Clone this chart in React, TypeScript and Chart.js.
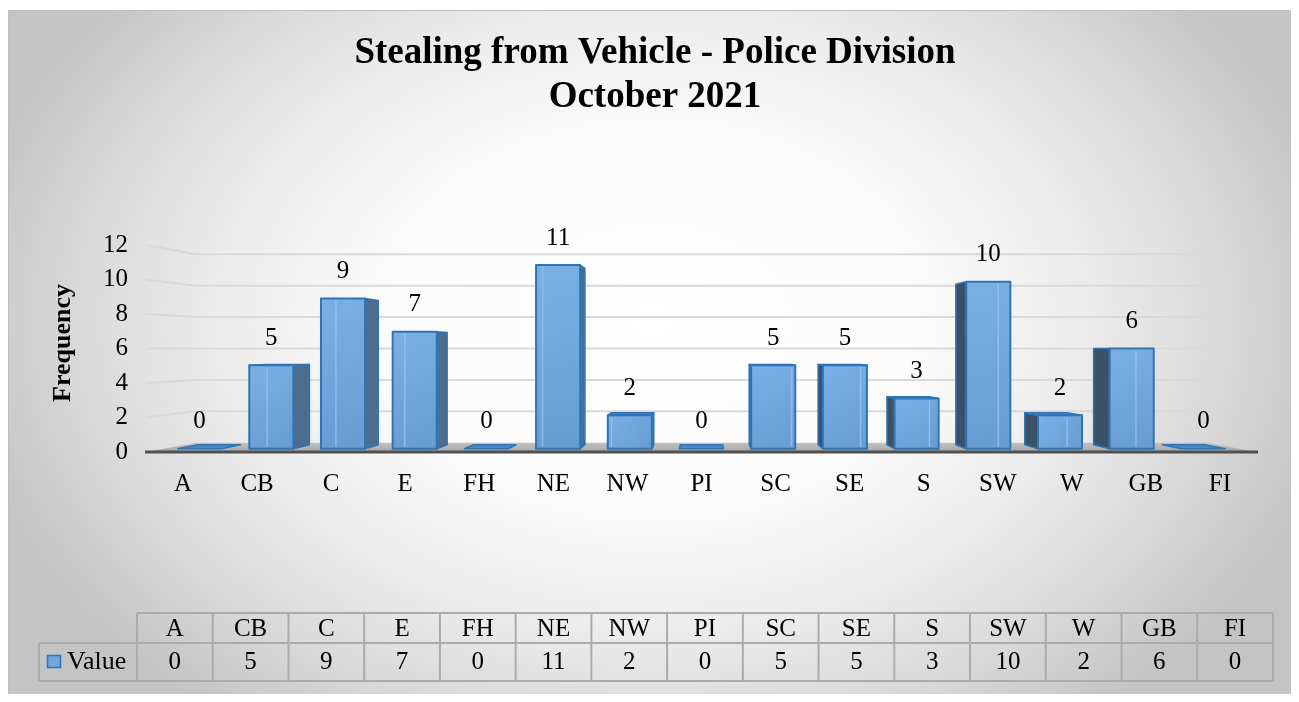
import React, { useEffect, useRef } from 'react';
import { Chart, registerables } from 'chart.js';
Chart.register(...registerables);

const TITLE_LINES = ['Stealing from Vehicle - Police Division', 'October 2021'];
const CATEGORIES = ['A', 'CB', 'C', 'E', 'FH', 'NE', 'NW', 'PI', 'SC', 'SE', 'S', 'SW', 'W', 'GB', 'FI'];
const VALUES = [0, 5, 9, 7, 0, 11, 2, 0, 5, 5, 3, 10, 2, 6, 0];
const SERIES_NAME = 'Value';
const Y_TICKS = [0, 2, 4, 6, 8, 10, 12];
const Y_TITLE = 'Frequency';

const FONT = "'Liberation Serif', 'Times New Roman', serif";
const S_FRONT = 0.968;
const S_BACK = 0.93;
const S_WALL = 0.91;

function projector(chart: any) {
  const ca = chart.chartArea;
  const vx = (ca.left + ca.right) / 2;
  const vy = (ca.top + ca.bottom) / 2;
  return (X: number, Y: number, s: number) => [vx + (X - vx) * s, vy + (Y - vy) * s];
}

const bgPlugin = {
  id: 'bg3d',
  beforeDraw(chart: any) {
    const { ctx, width, height } = chart;
    ctx.save();
    const cx = 645, cy = 310, rx = 700, ry = 500;
    const k = ry / rx;
    ctx.translate(cx, cy);
    ctx.scale(1, k);
    const g = ctx.createRadialGradient(0, 0, 0, 0, 0, rx);
    g.addColorStop(0, '#ffffff');
    g.addColorStop(0.38, '#fbfbfb');
    g.addColorStop(0.62, '#ececec');
    g.addColorStop(0.82, '#d9d9d9');
    g.addColorStop(1, '#c4c4c4');
    ctx.fillStyle = g;
    ctx.fillRect(-cx, -cy / k, width, height / k);
    ctx.restore();
    ctx.save();
    ctx.strokeStyle = '#bfbfbf';
    ctx.lineWidth = 1;
    ctx.strokeRect(0.5, 0.5, width - 1, height - 1);
    // title
    ctx.fillStyle = '#000';
    ctx.font = `bold 37px ${FONT}`;
    ctx.textAlign = 'center';
    ctx.textBaseline = 'middle';
    ctx.fillText(TITLE_LINES[0], 647, 43);
    ctx.fillText(TITLE_LINES[1], 647, 87);
    // y axis title
    ctx.translate(55, 333);
    ctx.rotate(-Math.PI / 2);
    ctx.font = `bold 26px ${FONT}`;
    ctx.fillText(Y_TITLE, 0, 0);
    ctx.restore();
  },
};

const floorPlugin = {
  id: 'floor3d',
  beforeDatasetsDraw(chart: any) {
    const { ctx, chartArea: ca } = chart;
    const ys = chart.scales.y;
    const P = projector(chart);
    ctx.save();
    ctx.strokeStyle = '#d9d9d9';
    ctx.lineWidth = 2;
    ys.ticks.forEach((t: any) => {
      if (t.value === 0) return;
      const Y = ys.getPixelForValue(t.value);
      const b = P(ca.left, Y, S_WALL);
      const c = P(ca.right, Y, S_WALL);
      ctx.beginPath();
      ctx.moveTo(ca.left, Y);
      ctx.lineTo(b[0], b[1]);
      ctx.lineTo(c[0], c[1]);
      ctx.stroke();
    });
    const B = ys.getPixelForValue(0);
    const bl = P(ca.left, B, S_WALL);
    const br = P(ca.right, B, S_WALL);
    const fg = ctx.createLinearGradient(0, bl[1], 0, B);
    fg.addColorStop(0, '#c2c2c2');
    fg.addColorStop(1, '#a6a6a6');
    ctx.fillStyle = fg;
    ctx.beginPath();
    ctx.moveTo(ca.left, B);
    ctx.lineTo(ca.right, B);
    ctx.lineTo(br[0], br[1]);
    ctx.lineTo(bl[0], bl[1]);
    ctx.closePath();
    ctx.fill();
    ctx.strokeStyle = '#505050';
    ctx.lineWidth = 3;
    ctx.beginPath();
    ctx.moveTo(ca.left - 1, B);
    ctx.lineTo(ca.right + 1, B);
    ctx.stroke();
    ctx.restore();
  },
};

const barsPlugin = {
  id: 'bars3d',
  afterDatasetsDraw(chart: any) {
    const { ctx } = chart;
    const P = projector(chart);
    const ca = chart.chartArea;
    const vx = (ca.left + ca.right) / 2;
    const vy = (ca.top + ca.bottom) / 2;
    const meta = chart.getDatasetMeta(0);
    ctx.save();
    ctx.lineJoin = 'round';
    const poly = (pts: number[][], fill: string | CanvasGradient, stroke: string, lw: number) => {
      ctx.beginPath();
      ctx.moveTo(pts[0][0], pts[0][1]);
      for (let i = 1; i < pts.length; i++) ctx.lineTo(pts[i][0], pts[i][1]);
      ctx.closePath();
      ctx.fillStyle = fill;
      ctx.fill();
      if (lw > 0) {
        ctx.strokeStyle = stroke;
        ctx.lineWidth = lw;
        ctx.stroke();
      }
    };
    meta.data.forEach((el: any, i: number) => {
      const { x, y, base, width } = el.getProps(['x', 'y', 'base', 'width'], true);
      const L = x - width / 2, R = x + width / 2;
      const T = Math.min(y, base), B = base;
      const fLT = P(L, T, S_FRONT), fRT = P(R, T, S_FRONT), fLB = P(L, B, S_FRONT), fRB = P(R, B, S_FRONT);
      const kLT = P(L, T, S_BACK), kRT = P(R, T, S_BACK), kLB = P(L, B, S_BACK), kRB = P(R, B, S_BACK);
      const edge = '#2e75b6';
      if (R < vx && B - T > 0.5) poly([fRT, kRT, kRB, fRB], '#4d6d8e', edge, 1.5);
      if (L > vx && B - T > 0.5) poly([fLT, kLT, kLB, fLB], '#3c5068', edge, 1.5);
      if (T > vy) poly([fLT, fRT, kRT, kLT], '#4f87c2', edge, 1.5);
      if (B - T > 0.5) {
        const g = ctx.createLinearGradient(fLT[0], fLT[1], fRB[0], fRB[1]);
        g.addColorStop(0, '#7ab0e3');
        g.addColorStop(1, '#679cd3');
        poly([fLT, fRT, fRB, fLB], g, edge, 2);
        // back edge seen through the translucent bar
        ctx.strokeStyle = 'rgba(150,192,236,0.9)';
        ctx.lineWidth = 1.5;
        ctx.beginPath();
        if (x < vx) {
          ctx.moveTo(kLT[0], fLT[1] + 2);
          ctx.lineTo(kLB[0], fLB[1] - 2);
        } else {
          ctx.moveTo(kRT[0], fRT[1] + 2);
          ctx.lineTo(kRB[0], fRB[1] - 2);
        }
        ctx.stroke();
      }
      // data label
      const top = P(x, T, S_FRONT);
      ctx.fillStyle = '#000';
      ctx.font = `25px ${FONT}`;
      ctx.textAlign = 'center';
      ctx.textBaseline = 'middle';
      ctx.fillText(String(VALUES[i]), top[0], top[1] - 27);
    });
    ctx.restore();
  },
};

const tablePlugin = {
  id: 'dataTable',
  afterDraw(chart: any) {
    const { ctx } = chart;
    const legLeft = 31, left = 129, col = 75.73, top = 603, mid = 633, bot = 671;
    const right = left + col * CATEGORIES.length;
    ctx.save();
    ctx.strokeStyle = '#ababab';
    ctx.lineWidth = 2;
    ctx.beginPath();
    ctx.moveTo(left, top); ctx.lineTo(right, top);
    ctx.moveTo(legLeft, mid); ctx.lineTo(right, mid);
    ctx.moveTo(legLeft, bot); ctx.lineTo(right, bot);
    ctx.moveTo(legLeft, mid); ctx.lineTo(legLeft, bot);
    for (let i = 0; i <= CATEGORIES.length; i++) {
      const xx = left + col * i;
      ctx.moveTo(xx, top); ctx.lineTo(xx, bot);
    }
    ctx.stroke();
    ctx.fillStyle = '#000';
    ctx.font = `25px ${FONT}`;
    ctx.textAlign = 'center';
    ctx.textBaseline = 'middle';
    CATEGORIES.forEach((c, i) => {
      const cx = left + col * (i + 0.5);
      ctx.fillText(c, cx, (top + mid) / 2 + 1);
      ctx.fillText(String(VALUES[i]), cx, (mid + bot) / 2);
    });
    // legend key
    ctx.fillStyle = '#6fa6dc';
    ctx.fillRect(39.5, 645.5, 13, 12);
    ctx.strokeStyle = '#2e75b6';
    ctx.lineWidth = 1.5;
    ctx.strokeRect(39.5, 645.5, 13, 12);
    ctx.fillStyle = '#000';
    ctx.textAlign = 'left';
    ctx.font = `26px ${FONT}`;
    ctx.fillText(SERIES_NAME, 59, (mid + bot) / 2);
    ctx.restore();
  },
};

export default function App() {
  const ref = useRef<HTMLCanvasElement>(null);
  useEffect(() => {
    const chart = new Chart(ref.current as HTMLCanvasElement, {
      type: 'bar',
      data: {
        labels: CATEGORIES,
        datasets: [
          {
            label: SERIES_NAME,
            data: VALUES,
            backgroundColor: 'rgba(0,0,0,0)',
            borderWidth: 0,
            barPercentage: 0.615,
            categoryPercentage: 1,
          },
        ],
      },
      options: {
        responsive: false,
        animation: false,
        devicePixelRatio: 1,
        layout: { padding: { top: 235, right: 34, bottom: 0, left: 0 } },
        plugins: {
          legend: { display: false },
          tooltip: { enabled: false },
          title: { display: false },
        },
        scales: {
          x: {
            grid: { display: false, drawTicks: false },
            border: { display: false },
            ticks: { font: { family: FONT, size: 25 }, color: '#000', padding: 17, maxRotation: 0, autoSkip: false },
            afterFit: (s: any) => {
              s.height = 248;
            },
          },
          y: {
            min: 0,
            max: 12,
            afterBuildTicks: (s: any) => {
              s.ticks = Y_TICKS.map((v) => ({ value: v }));
            },
            grid: { display: false, drawTicks: false },
            border: { display: false },
            ticks: { font: { family: FONT, size: 25 }, color: '#000', padding: 18 },
            title: { display: false },
            afterFit: (s: any) => {
              s.width = 138;
            },
          },
        },
      } as any,
      plugins: [bgPlugin, floorPlugin, barsPlugin, tablePlugin],
    });
    return () => chart.destroy();
  }, []);
  return (
    <div style={{ position: 'relative', width: 1283, height: 686 }}>
      <canvas ref={ref} width={1283} height={690} style={{ position: 'absolute', left: 0, top: 2, display: 'block' }} />
    </div>
  );
}
